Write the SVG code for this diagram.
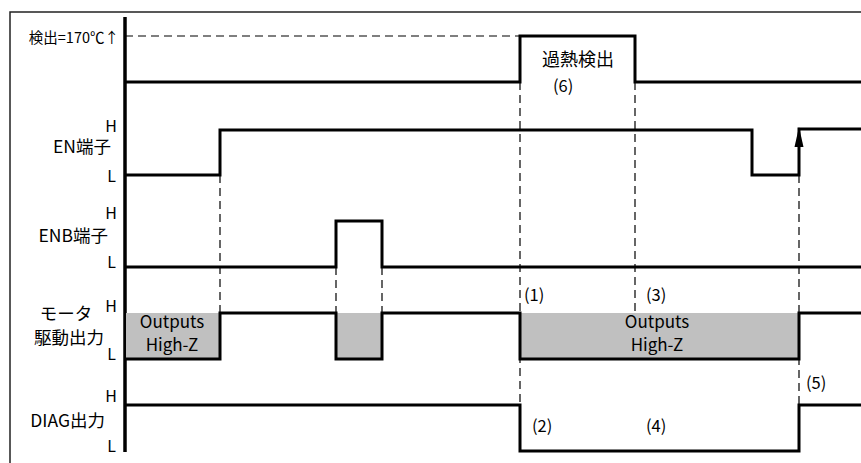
<svg xmlns="http://www.w3.org/2000/svg" width="861" height="463" viewBox="0 0 861 463">
<style>
text{font-family:"Noto Sans CJK JP","Liberation Sans",sans-serif;fill:#000}
.lbl{font-size:17.5px;text-anchor:end}
.hl{font-size:16px;text-anchor:end}
.mid{font-size:17px;text-anchor:middle}
.num{font-size:16.5px}
.sig{fill:none;stroke:#000;stroke-width:3;stroke-linejoin:miter}
.dash{fill:none;stroke:#000;stroke-width:1.2;stroke-dasharray:8,5}
.hz{fill:#c0c0c0;stroke:none}
</style>
<rect x="0" y="0" width="861" height="463" fill="#fff"/>
<rect x="10" y="12" width="870" height="470" fill="none" stroke="#222" stroke-width="1.5"/>
<g id="axis"><line x1="125" y1="17" x2="125" y2="452" stroke="#000" stroke-width="3.5"/></g>
<g id="labels">
<text x="119" y="43" style="font-size:14.5px;text-anchor:end">検出=170℃↑</text>
<text class="hl" x="117" y="132">H</text>
<text class="lbl" x="111" y="153">EN端子</text>
<text class="hl" x="116" y="182">L</text>
<text class="hl" x="117" y="219">H</text>
<text class="lbl" x="108" y="242">ENB端子</text>
<text class="hl" x="116" y="268">L</text>
<text class="hl" x="117" y="312">H</text>
<text x="66" y="320" style="font-size:17.5px;text-anchor:middle">モータ</text>
<text class="lbl" x="104" y="344">駆動出力</text>
<text class="hl" x="116" y="360">L</text>
<text class="hl" x="117" y="402">H</text>
<text class="lbl" x="105" y="427">DIAG出力</text>
<text class="hl" x="116" y="452">L</text>
</g>
<g id="connectors">
<line class="dash" x1="125" y1="36" x2="520" y2="36"/>
<line class="dash" x1="220" y1="175" x2="220" y2="313"/>
<line class="dash" x1="336" y1="267" x2="336" y2="313"/>
<line class="dash" x1="382" y1="267" x2="382" y2="313"/>
<line class="dash" x1="520" y1="82" x2="520" y2="405"/>
<line class="dash" x1="635" y1="82" x2="635" y2="313"/>
<line class="dash" x1="799" y1="175" x2="799" y2="405"/>
</g>
<g id="temp">
<path class="sig" d="M125,82 H520 V36 H635 V82 H861"/>
<text x="578" y="66" style="font-size:18px;text-anchor:middle">過熱検出</text>
<text class="num" x="553" y="92">(6)</text>
</g>
<g id="en">
<path class="sig" d="M125,175 H220 V130 H752 V175 H799 V129 H861"/>
<polygon points="799,127 794.5,147 803.5,147" fill="#000"/>
</g>
<g id="enb">
<path class="sig" d="M125,267 H336 V221 H382 V267 H861"/>
</g>
<g id="motor">
<rect class="hz" x="126" y="313" width="94" height="46"/>
<rect class="hz" x="336" y="313" width="46" height="46"/>
<rect class="hz" x="520" y="313" width="279" height="46"/>
<path class="sig" d="M125,359 H220 V313 H336 V359 H382 V313 H520 V359 H799 V313 H861"/>
<text class="mid" x="172" y="328">Outputs</text>
<text class="mid" x="172" y="351">High-Z</text>
<text class="mid" x="657" y="328">Outputs</text>
<text class="mid" x="657" y="351">High-Z</text>
<text class="num" x="524" y="301">(1)</text>
<text class="num" x="646" y="301">(3)</text>
</g>
<g id="diag">
<path class="sig" d="M125,405 H520 V451 H799 V405 H861"/>
<text class="num" x="532" y="432">(2)</text>
<text class="num" x="646" y="432">(4)</text>
<text class="num" x="806" y="389">(5)</text>
</g>
</svg>
